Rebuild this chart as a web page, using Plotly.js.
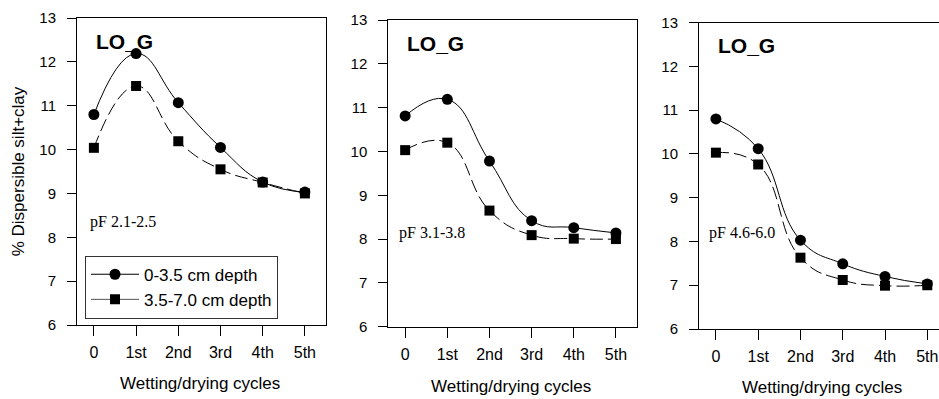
<!DOCTYPE html>
<html>
<head>
<meta charset="utf-8">
<script src="https://cdn.plot.ly/plotly-3.0.1.min.js"></script>
<style>html,body{margin:0;padding:0;background:#fff;}#chart{width:939px;height:399px;}</style>
</head>
<body>
<div id="chart"></div>
<script>
// ---- data ----
var cycleLabels = ['0', '1st', '2nd', '3rd', '4th', '5th'];
var cycleIndex = [0, 1, 2, 3, 4, 5];
var seriesNames = ['0-3.5 cm depth', '3.5-7.0 cm depth'];
var panelTitles = ['LO_G', 'LO_G', 'LO_G'];
var panelLabels = ['pF 2.1-2.5', 'pF 3.1-3.8', 'pF 4.6-6.0'];
var xAxisTitle = 'Wetting/drying cycles';
var yAxisTitle = '% Dispersible silt+clay';

var pf21_top = [10.80, 12.19, 11.07, 10.05, 9.26, 9.03];
var pf21_sub = [10.04, 11.45, 10.19, 9.55, 9.25, 9.00];
var pf31_top = [10.81, 11.19, 9.78, 8.42, 8.26, 8.14];
var pf31_sub = [10.03, 10.20, 8.65, 8.09, 8.01, 8.00];
var pf46_top = [10.80, 10.12, 8.03, 7.49, 7.20, 7.03];
var pf46_sub = [10.03, 9.76, 7.63, 7.12, 6.99, 7.00];

var yTickVals = [6, 7, 8, 9, 10, 11, 12, 13];

// ---- chart ----
var W = 939, H = 399;
var SANS = 'Liberation Sans, Arial, sans-serif';
var SERIF = 'Liberation Serif, Times New Roman, serif';

var panels = [
  {top: pf21_top, sub: pf21_sub, px: [77, 326], py: [18, 325], xr: [-0.4, 5.5], mirrorY: true, labelPos: [-0.135, 8.36], title: [200, 383]},
  {top: pf31_top, sub: pf31_sub, px: [388.3, 637], py: [20, 326.7], xr: [-0.4, 5.5], mirrorY: true, labelPos: [-0.2, 8.14], title: [510.5, 386.7]},
  {top: pf46_top, sub: pf46_sub, px: [699, 939], py: [22.7, 329], xr: [-0.4, 5.277], mirrorY: false, labelPos: [-0.21, 8.19], title: [822, 387.8]}
];

var traces = [];
var layout = {
  width: W, height: H,
  margin: {l: 0, r: 0, t: 0, b: 0, pad: 0},
  paper_bgcolor: '#fff', plot_bgcolor: '#fff',
  showlegend: true,
  legend: {
    x: 85 / W, y: 1 - 255.7 / H, xanchor: 'left', yanchor: 'top',
    xref: 'paper', yref: 'paper',
    bordercolor: '#333', borderwidth: 1, bgcolor: '#fff',
    font: {family: SANS, size: 17, color: '#000'},
    itemwidth: 48, tracegroupgap: 0
  },
  annotations: [],
  font: {family: SANS, color: '#000'}
};

panels.forEach(function (p, i) {
  var n = i + 1;
  var xa = 'x' + (n === 1 ? '' : n), ya = 'y' + (n === 1 ? '' : n);
  traces.push({
    x: cycleIndex, y: p.top, xaxis: xa, yaxis: ya, type: 'scatter', mode: 'lines+markers',
    name: seriesNames[0], showlegend: false, cliponaxis: false,
    line: {color: '#000', width: 1, shape: 'spline', smoothing: 1.3},
    marker: {symbol: 'circle', size: 11, color: '#000'}
  });
  traces.push({
    x: cycleIndex, y: p.sub, xaxis: xa, yaxis: ya, type: 'scatter', mode: 'lines+markers',
    name: seriesNames[1], showlegend: false, cliponaxis: false,
    line: {color: '#000', width: 1, shape: 'spline', smoothing: 1.3, dash: '13px,5px'},
    marker: {symbol: 'square', size: 10, color: '#000'}
  });
  var xkey = 'xaxis' + (n === 1 ? '' : n), ykey = 'yaxis' + (n === 1 ? '' : n);
  layout[xkey] = {
    domain: [p.px[0] / W, p.px[1] / W], anchor: ya, range: p.xr,
    tickvals: cycleIndex, ticktext: cycleLabels, ticks: 'outside', ticklen: 10, tickwidth: 1, tickcolor: '#000',
    showline: true, linecolor: '#000', linewidth: 1, mirror: true, showgrid: false, zeroline: false,
    tickfont: {family: SANS, size: 16, color: '#000'}, ticklabelstandoff: 3,
    fixedrange: true
  };
  layout[ykey] = {
    domain: [1 - p.py[1] / H, 1 - p.py[0] / H], anchor: xa, range: [6, 13],
    tickvals: yTickVals, ticks: 'outside', ticklen: 9, tickwidth: 1, tickcolor: '#000',
    showline: true, linecolor: '#000', linewidth: 1, mirror: p.mirrorY, showgrid: false, zeroline: false,
    tickfont: {family: SANS, size: 15, color: '#000'}, ticklabelstandoff: 8,
    fixedrange: true
  };
  if (n === 1) {
    layout[ykey].title = {text: yAxisTitle, font: {family: SANS, size: 17, color: '#000'}, standoff: 10};
  }
  // x-axis title of this panel
  layout.annotations.push({
    xref: 'paper', yref: 'paper', x: p.title[0] / W, y: 1 - p.title[1] / H, xanchor: 'center', yanchor: 'middle',
    showarrow: false, text: xAxisTitle, font: {family: SANS, size: 17, color: '#000'}
  });
  layout.annotations.push({
    xref: xa, yref: ya, x: 0, y: 12.47, xanchor: 'left', yanchor: 'middle', showarrow: false,
    text: '<b>' + panelTitles[i] + '</b>', font: {family: SANS, size: 21, color: '#000'}
  });
  layout.annotations.push({
    xref: xa, yref: ya, x: p.labelPos[0], y: p.labelPos[1], xanchor: 'left', yanchor: 'middle', showarrow: false,
    text: panelLabels[i], font: {family: SERIF, size: 16, color: '#000'}
  });
});

// legend-only entries (solid symbol lines as in the reference legend)
traces.push({x: [null], y: [null], type: 'scatter', mode: 'lines+markers', name: seriesNames[0],
  line: {color: '#000', width: 1}, marker: {symbol: 'circle', size: 11, color: '#000'}});
traces.push({x: [null], y: [null], type: 'scatter', mode: 'lines+markers', name: seriesNames[1],
  line: {color: '#555', width: 1}, marker: {symbol: 'square', size: 10, color: '#000'}});

Plotly.newPlot('chart', traces, layout, {displayModeBar: false, staticPlot: true});
</script>
</body>
</html>
